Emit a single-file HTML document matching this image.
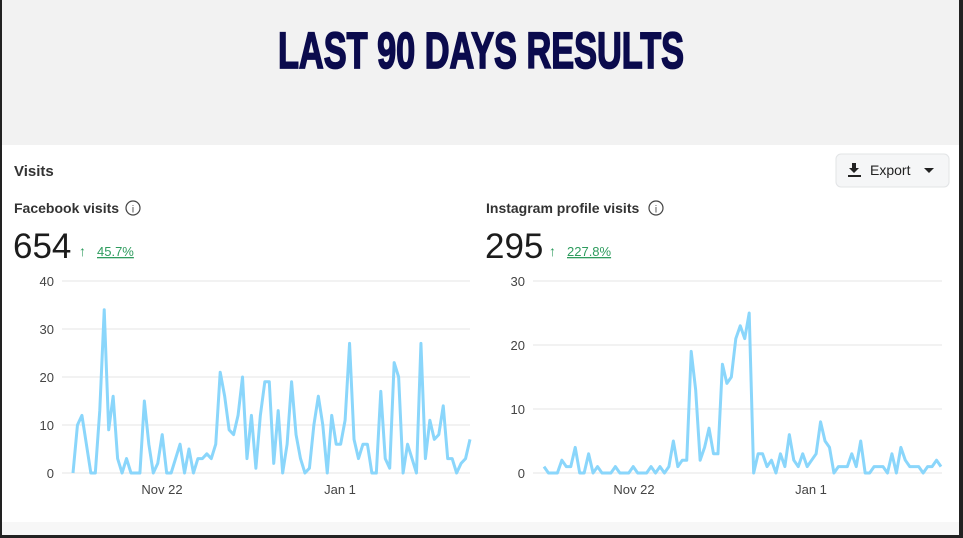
<!DOCTYPE html>
<html><head><meta charset="utf-8"><style>
html,body{margin:0;padding:0;background:#fff}
svg{display:block;font-family:"Liberation Sans",sans-serif}
</style></head><body>
<svg width="963" height="538" viewBox="0 0 963 538" xmlns="http://www.w3.org/2000/svg">
<rect x="0" y="0" width="963" height="538" fill="#fff"/>
<rect x="0" y="0" width="963" height="145" fill="#f2f2f2"/>
<g transform="translate(481,68) scale(0.78,1.15)">
<text x="0" y="0" text-anchor="middle" font-family="'Liberation Sans Narrow','Liberation Sans',sans-serif" font-weight="bold" font-size="44" fill="#0b0b4d" stroke="#0b0b4d" stroke-width="1.5">LAST 90 DAYS RESULTS</text>
</g>
<rect x="0" y="0" width="2" height="538" fill="#222"/>
<rect x="959" y="0" width="4" height="538" fill="#222"/>
<rect x="0" y="535" width="963" height="3" fill="#222"/>
<rect x="2" y="522" width="957" height="13" fill="#f7f7f7"/>

<text x="14" y="176" font-size="15" font-weight="bold" fill="#333">Visits</text>
<rect x="836" y="154" width="113" height="33" rx="5" fill="#f5f6f7" stroke="#e2e4e6"/>
<path d="M852 163h4v5h3l-5 5-5-5h3z" fill="#222"/><rect x="848" y="175" width="13" height="2" fill="#222"/>
<text x="870" y="175" font-size="14" fill="#222">Export</text>
<path d="M924 168h10l-5 5z" fill="#222"/>

<text x="14" y="213" font-size="14" font-weight="bold" fill="#333">Facebook visits</text>
<circle cx="133" cy="208" r="7" fill="none" stroke="#444" stroke-width="1.2"/><text x="133" y="212.5" font-size="10" text-anchor="middle" fill="#444">i</text>
<text x="13" y="258" font-size="35" fill="#1c1c1c">654</text>
<text x="79" y="256" font-size="14" fill="#2e9c5e">↑</text>
<text x="97" y="256" font-size="13" fill="#2e9c5e" text-decoration="underline">45.7%</text>

<text x="486" y="213" font-size="14" font-weight="bold" fill="#333">Instagram profile visits</text>
<circle cx="656" cy="208" r="7" fill="none" stroke="#444" stroke-width="1.2"/><text x="656" y="212.5" font-size="10" text-anchor="middle" fill="#444">i</text>
<text x="485" y="258" font-size="35" fill="#1c1c1c">295</text>
<text x="549" y="256" font-size="14" fill="#2e9c5e">↑</text>
<text x="567" y="256" font-size="13" fill="#2e9c5e" text-decoration="underline">227.8%</text>

<g stroke="#e4e4e4" stroke-width="1">
<line x1="62" y1="281" x2="470" y2="281"/><line x1="62" y1="329" x2="470" y2="329"/><line x1="62" y1="377" x2="470" y2="377"/><line x1="62" y1="425" x2="470" y2="425"/><line x1="62" y1="473" x2="470" y2="473"/>
<line x1="533" y1="281" x2="942" y2="281"/><line x1="533" y1="345" x2="942" y2="345"/><line x1="533" y1="409" x2="942" y2="409"/><line x1="533" y1="473" x2="942" y2="473"/>
</g>
<g font-size="13" fill="#444" text-anchor="end">
<text x="54" y="286">40</text><text x="54" y="334">30</text><text x="54" y="382">20</text><text x="54" y="430">10</text><text x="54" y="478">0</text>
<text x="525" y="286">30</text><text x="525" y="350">20</text><text x="525" y="414">10</text><text x="525" y="478">0</text>
</g>
<g font-size="13" fill="#444" text-anchor="middle">
<text x="162" y="494">Nov 22</text><text x="340" y="494">Jan 1</text>
<text x="634" y="494">Nov 22</text><text x="811" y="494">Jan 1</text>
</g>
<g transform="translate(73,473) scale(4.4607,-4.8)">
<polyline fill="none" stroke="#8ad6fb" stroke-width="3" stroke-linejoin="round" vector-effect="non-scaling-stroke" points="0,0 1,10 2,12 3,6 4,0 5,0 6,13 7,34 8,9 9,16 10,3 11,0 12,3 13,0 14,0 15,0 16,15 17,6 18,0 19,2 20,8 21,0 22,0 23,3 24,6 25,0 26,5 27,0 28,3 29,3 30,4 31,3 32,6 33,21 34,16 35,9 36,8 37,12 38,20 39,3 40,12 41,1 42,12 43,19 44,19 45,2 46,13 47,0 48,6 49,19 50,8 51,3 52,0 53,1 54,10 55,16 56,10 57,0 58,12 59,6 60,6 61,11 62,27 63,7 64,3 65,6 66,6 67,0 68,0 69,17 70,3 71,1 72,23 73,20 74,0 75,6 76,3 77,0 78,27 79,3 80,11 81,7 82,8 83,14 84,3 85,3 86,0 87,2 88,3 89,7"/>
</g>
<g transform="translate(544,473) scale(4.4607,-6.4)">
<polyline fill="none" stroke="#8ad6fb" stroke-width="3" stroke-linejoin="round" vector-effect="non-scaling-stroke" points="0,1 1,0 2,0 3,0 4,2 5,1 6,1 7,4 8,0 9,0 10,3 11,0 12,1 13,0 14,0 15,0 16,1 17,0 18,0 19,0 20,1 21,0 22,0 23,0 24,1 25,0 26,1 27,0 28,1 29,5 30,1 31,2 32,2 33,19 34,13 35,2 36,4 37,7 38,3 39,3 40,17 41,14 42,15 43,21 44,23 45,21 46,25 47,0 48,3 49,3 50,1 51,2 52,0 53,3 54,1 55,6 56,2 57,1 58,3 59,1 60,2 61,3 62,8 63,5 64,4 65,0 66,1 67,1 68,1 69,3 70,1 71,5 72,0 73,0 74,1 75,1 76,1 77,0 78,3 79,0 80,4 81,2 82,1 83,1 84,1 85,0 86,1 87,1 88,2 89,1"/>
</g>
</svg>
</body></html>
